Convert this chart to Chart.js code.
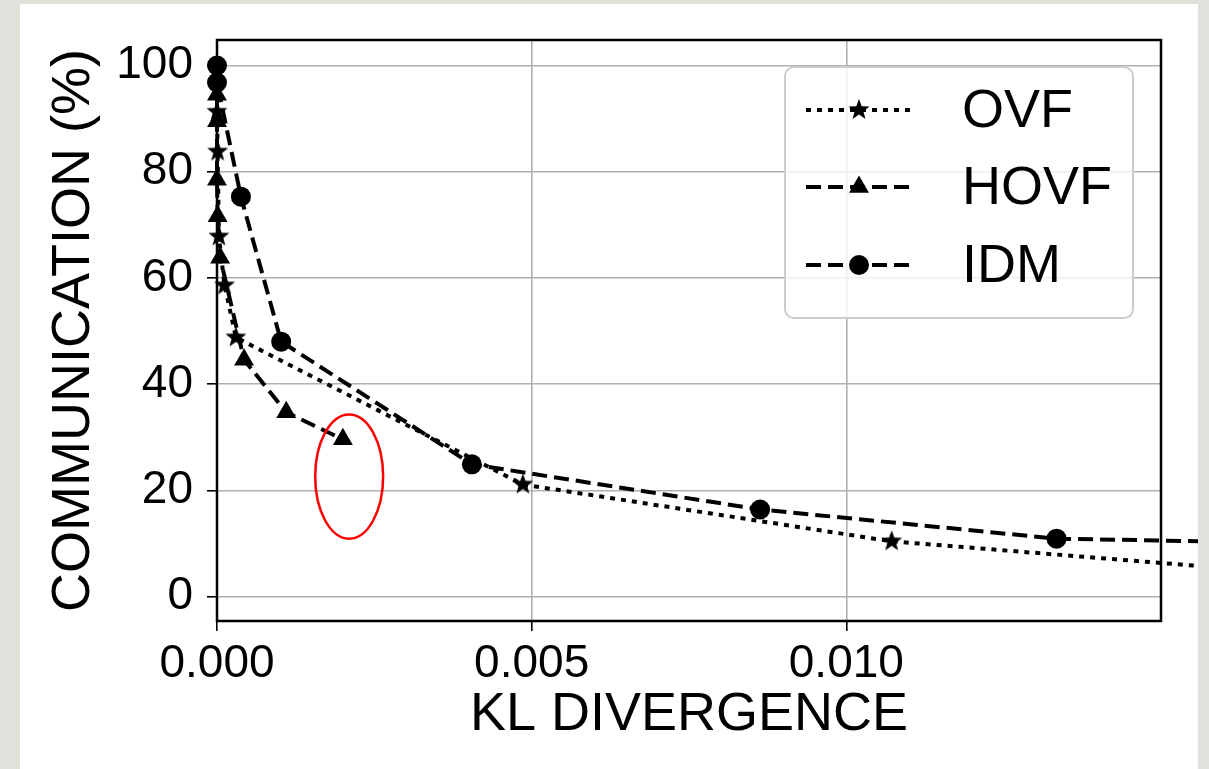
<!DOCTYPE html>
<html>
<head>
<meta charset="utf-8">
<script src="https://cdn.jsdelivr.net/npm/chart.js@4.4.1/dist/chart.umd.min.js"></script>
<style>
  html, body { margin: 0; padding: 0; background: #e1e1dc; overflow: hidden; }
  #wrap { position: absolute; left: 20px; top: 4px; width: 1178px; height: 765px; background: #fff; }
</style>
</head>
<body>
<div id="wrap"><canvas id="chart" width="1178" height="765"></canvas></div>
<script>
// values
const OVF_X = [0.0, 0.00001, 0.00003, 0.00012, 0.0003, 0.00486, 0.01072, 0.0185];
const OVF_Y = [91.3, 83.8, 67.8, 58.6, 48.8, 21.1, 10.4, 3.0];

const HOVF_X = [0.0, 0.0, 0.0, 0.00001, 0.00005, 0.00043, 0.0011, 0.002];
const HOVF_Y = [94.5, 89.5, 78.5, 71.6, 63.8, 44.6, 34.7, 29.6];

const IDM_X = [0.0, 0.0, 0.00038, 0.00102, 0.00405, 0.00863, 0.01334, 0.020];
const IDM_Y = [100, 96.8, 75.3, 48.0, 24.9, 16.4, 10.9, 9.5];

const X_TICKS = [0, 0.005, 0.010];
const Y_TICKS = [0, 20, 40, 60, 80, 100];

const FONT = 'Liberation Sans, Arial, sans-serif';

// filled five point star marker
function makeStar(r) {
    const c = document.createElement('canvas');
    c.width = c.height = Math.ceil(r * 2 + 2);
    const g = c.getContext('2d');
    const cx = c.width / 2, cy = c.height / 2;
    g.beginPath();
    for (let i = 0; i < 10; i++) {
        const rad = i % 2 === 0 ? r : r * 0.42;
        const a = -Math.PI / 2 + i * Math.PI / 5;
        g.lineTo(cx + rad * Math.cos(a), cy + rad * Math.sin(a));
    }
    g.closePath();
    g.fillStyle = '#000';
    g.fill();
    return c;
}
const starImg = makeStar(11);

const toPts = (xs, ys) => xs.map((x, i) => ({ x: x, y: ys[i] }));

const datasets = [
    {
        label: 'OVF',
        data: toPts(OVF_X, OVF_Y),
        borderDash: [5, 6],
        pointStyle: starImg,
        pointRadius: 10
    },
    {
        label: 'HOVF',
        data: toPts(HOVF_X, HOVF_Y),
        borderDash: [15, 7],
        pointStyle: 'triangle',
        pointRadius: 11.5
    },
    {
        label: 'IDM',
        data: toPts(IDM_X, IDM_Y),
        borderDash: [15, 7],
        pointStyle: 'circle',
        pointRadius: 10
    }
].map(d => Object.assign({
    borderColor: '#000',
    borderWidth: 4,
    backgroundColor: '#000',
    pointBackgroundColor: '#000',
    pointBorderWidth: 0,
    tension: 0,
    clip: false
}, d));

// frame, legend box and the red ellipse
const extras = {
    id: 'extras',
    afterDraw(chart) {
        const ctx = chart.ctx;
        const a = chart.chartArea;
        ctx.save();
        ctx.strokeStyle = '#000';
        ctx.lineWidth = 2.5;
        ctx.setLineDash([]);
        ctx.strokeRect(a.left, a.top, a.right - a.left, a.bottom - a.top);

        // legend
        const bw = 348, bh = 251;
        const bx = a.right - 28 - bw, by = a.top + 27;
        ctx.beginPath();
        ctx.roundRect(bx, by, bw, bh, 9);
        ctx.fillStyle = 'rgba(255,255,255,0.8)';
        ctx.fill();
        ctx.strokeStyle = '#cccccc';
        ctx.lineWidth = 2;
        ctx.stroke();
        const rows = [43, 120, 198];
        chart.data.datasets.forEach((ds, i) => {
            const ry = by + rows[i];
            ctx.beginPath();
            ctx.setLineDash(ds.borderDash);
            ctx.lineWidth = ds.borderWidth;
            ctx.strokeStyle = '#000';
            ctx.moveTo(bx + 21, ry);
            ctx.lineTo(bx + 125, ry);
            ctx.stroke();
            ctx.setLineDash([]);
            Chart.helpers.drawPoint(ctx, {
                pointStyle: ds.pointStyle,
                radius: ds.pointRadius,
                rotation: 0,
                borderWidth: 0
            }, bx + 74, ry);
            ctx.fillStyle = '#000';
            ctx.font = '54px ' + FONT;
            ctx.textBaseline = 'middle';
            ctx.textAlign = 'left';
            ctx.fillText(ds.label, bx + 177, ry + 2);
        });

        // red ellipse around the last HOVF point
        const xs = chart.scales.x, ys = chart.scales.y;
        const cx = xs.getPixelForValue(0.0021), cy = ys.getPixelForValue(22.6);
        const rx = xs.getPixelForValue(0.0021 + 0.00054) - cx;
        const ryy = ys.getPixelForValue(22.6 - 11.7) - cy;
        ctx.beginPath();
        ctx.ellipse(cx, cy, rx, ryy, 0, 0, Math.PI * 2);
        ctx.strokeStyle = '#ff0000';
        ctx.lineWidth = 2.5;
        ctx.stroke();
        ctx.restore();
    }
};

const gridOpts = {
    color: '#b0b0b0',
    lineWidth: 1.6,
    drawTicks: true,
    tickLength: 10,
    tickColor: '#000',
    tickWidth: 1.6
};

new Chart(document.getElementById('chart'), {
    type: 'line',
    data: { datasets: datasets },
    options: {
        responsive: false,
        animation: false,
        layout: { padding: { left: 0, top: 36, right: 37, bottom: 0 } },
        scales: {
            x: {
                type: 'linear',
                min: 0,
                max: 0.015,
                afterBuildTicks: s => { s.ticks = X_TICKS.map(v => ({ value: v })); },
                afterFit: s => { s.height = 148; s.paddingLeft = 0; s.paddingRight = 0; },
                ticks: {
                    callback: v => v.toFixed(3),
                    font: { family: FONT, size: 46 },
                    color: '#000',
                    padding: 6,
                    maxRotation: 0
                },
                grid: gridOpts,
                border: { display: false },
                title: {
                    display: true,
                    text: 'KL DIVERGENCE',
                    font: { family: FONT, size: 54 },
                    color: '#000',
                    padding: { top: 0, bottom: 21 }
                }
            },
            y: {
                min: -4.6,
                max: 104.8,
                afterBuildTicks: s => { s.ticks = Y_TICKS.map(v => ({ value: v })); },
                afterFit: s => { s.width = 197; s.paddingTop = 0; s.paddingBottom = 0; },
                ticks: {
                    font: { family: FONT, size: 46 },
                    color: '#000',
                    padding: 14
                },
                grid: gridOpts,
                border: { display: false },
                title: {
                    display: true,
                    text: 'COMMUNICATION (%)',
                    font: { family: FONT, size: 54 },
                    color: '#000',
                    padding: { top: 22, bottom: 0 }
                }
            }
        },
        plugins: {
            legend: { display: false },
            tooltip: { enabled: false }
        }
    },
    plugins: [extras]
});
</script>
</body>
</html>
